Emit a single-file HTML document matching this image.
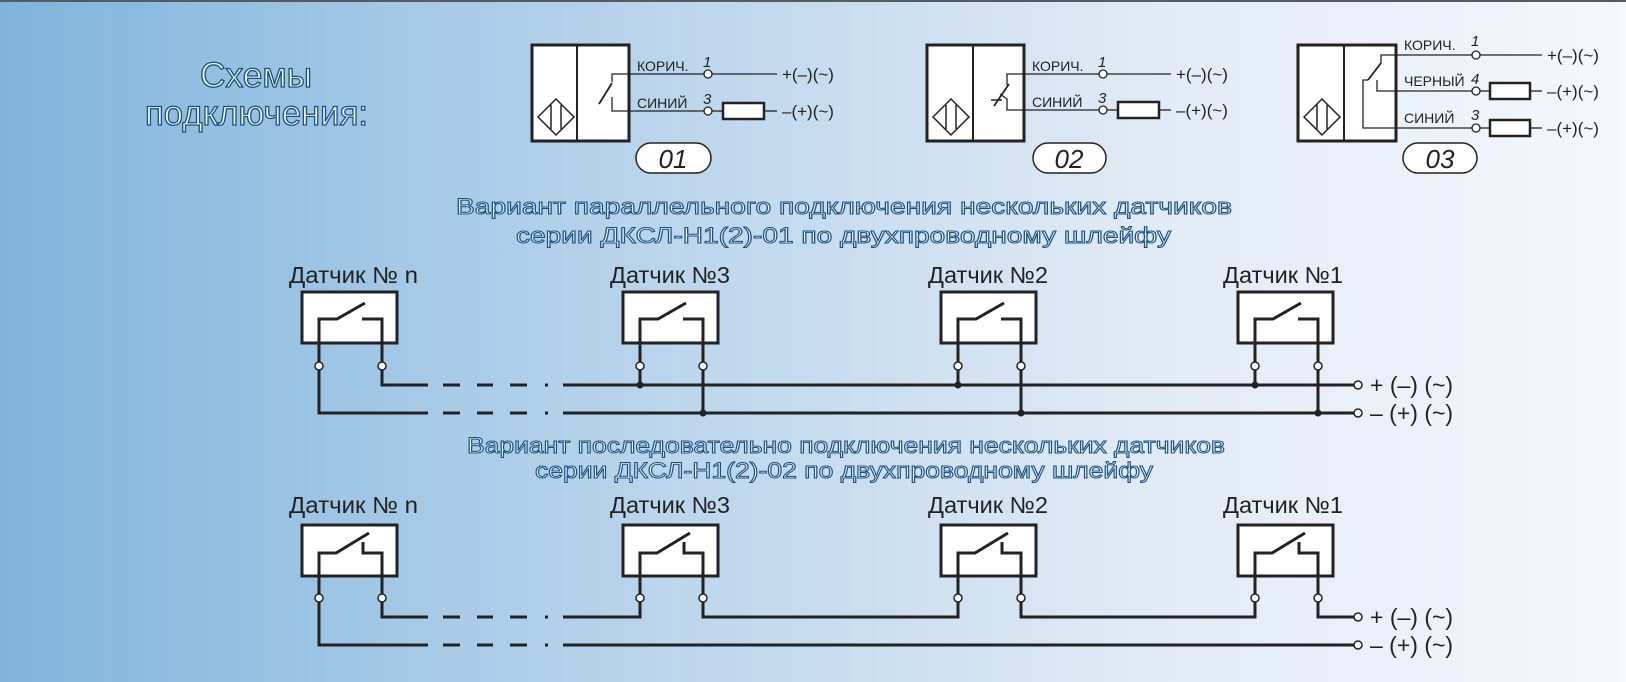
<!DOCTYPE html>
<html><head><meta charset="utf-8"><style>
html,body{margin:0;padding:0;width:1626px;height:682px;overflow:hidden}
svg{display:block}
text{font-family:"Liberation Sans","DejaVu Sans",sans-serif}
</style></head><body>
<svg width="1626" height="682" viewBox="0 0 1626 682" xmlns="http://www.w3.org/2000/svg">
<defs>
<linearGradient id="bg" x1="0" x2="1" y1="0" y2="0">
<stop offset="0" stop-color="#80b4dc"/>
<stop offset="0.35" stop-color="#b3d1ea"/>
<stop offset="0.7" stop-color="#e0eaf5"/>
<stop offset="1" stop-color="#f5f8fc"/>
</linearGradient>
</defs>
<rect width="1626" height="682" fill="url(#bg)"/>
<rect width="1626" height="2" fill="#555b63"/>

<!-- titles -->
<g fill="#f2f8fd" stroke="#174f80" stroke-width="1.3" font-size="35">
<text x="200" y="87" textLength="112" lengthAdjust="spacingAndGlyphs">Схемы</text>
<text x="145" y="125" textLength="223" lengthAdjust="spacingAndGlyphs">подключения:</text>
</g>
<g fill="#eef5fc" stroke="#174f80" stroke-width="1" font-size="22">
<text x="456" y="214" textLength="776" lengthAdjust="spacingAndGlyphs">Вариант параллельного подключения нескольких датчиков</text>
<text x="516" y="243" textLength="655" lengthAdjust="spacingAndGlyphs">серии ДКСЛ-Н1(2)-01 по двухпроводному шлейфу</text>
<text x="467" y="453" textLength="758" lengthAdjust="spacingAndGlyphs">Вариант последовательно подключения нескольких датчиков</text>
<text x="535" y="478" textLength="618" lengthAdjust="spacingAndGlyphs">серии ДКСЛ-Н1(2)-02 по двухпроводному шлейфу</text>
</g>

<!-- small diagrams -->
<g stroke="#222" fill="none">
<!-- 01 -->
<rect x="532" y="45" width="97" height="96" fill="#fff" stroke-width="3"/>
<line x1="577" y1="45" x2="577" y2="141" stroke-width="2"/>
<polygon points="538,117 556,99 574,117 556,135" stroke-width="1.5"/>
<line x1="551" y1="105" x2="551" y2="129" stroke-width="1.5"/><line x1="561" y1="105" x2="561" y2="129" stroke-width="1.5"/>
<polyline points="704,74 612,74 612,82" stroke-width="1.3"/>
<line x1="612" y1="83" x2="599" y2="104" stroke-width="1.8"/>
<polyline points="612,97 612,111 704,111" stroke-width="1.3"/>
<line x1="712" y1="74" x2="777" y2="74" stroke-width="1.3"/>
<line x1="712" y1="111" x2="723" y2="111" stroke-width="1.3"/>
<rect x="723" y="103" width="41" height="16" stroke-width="2.5" fill="#fff"/>
<line x1="764" y1="111" x2="777" y2="111" stroke-width="1.3"/>
<circle cx="708" cy="74" r="4" fill="#fff" stroke-width="1.3"/><circle cx="708" cy="111" r="4" fill="#fff" stroke-width="1.3"/>
<rect x="636" y="143" width="75" height="30" rx="15" fill="#fff" stroke-width="1.5"/>
<!-- 02 -->
<rect x="927" y="45" width="97" height="96" fill="#fff" stroke-width="3"/>
<line x1="973" y1="45" x2="973" y2="141" stroke-width="2"/>
<polygon points="933,117 951,99 969,117 951,135" stroke-width="1.5"/>
<line x1="946" y1="105" x2="946" y2="129" stroke-width="1.5"/><line x1="956" y1="105" x2="956" y2="129" stroke-width="1.5"/>
<polyline points="1099,74 1007,74 1007,85" stroke-width="1.3"/>
<line x1="1009" y1="84" x2="994" y2="106" stroke-width="1.8"/>
<polyline points="1099,110 1007,110 1007,99 1000,94" stroke-width="1.3"/>
<line x1="991" y1="100" x2="1002" y2="100" stroke-width="1.5"/>
<line x1="1107" y1="74" x2="1171" y2="74" stroke-width="1.3"/>
<line x1="1107" y1="110" x2="1118" y2="110" stroke-width="1.3"/>
<rect x="1118" y="102" width="41" height="16" stroke-width="2.5" fill="#fff"/>
<line x1="1159" y1="110" x2="1171" y2="110" stroke-width="1.3"/>
<circle cx="1103" cy="74" r="4" fill="#fff" stroke-width="1.3"/><circle cx="1103" cy="110" r="4" fill="#fff" stroke-width="1.3"/>
<rect x="1033" y="143" width="73" height="30" rx="15" fill="#fff" stroke-width="1.5"/>
<!-- 03 -->
<rect x="1298" y="45" width="98" height="96" fill="#fff" stroke-width="3"/>
<line x1="1344" y1="45" x2="1344" y2="141" stroke-width="2"/>
<polygon points="1304,117 1322,99 1340,117 1322,135" stroke-width="1.5"/>
<line x1="1317" y1="105" x2="1317" y2="129" stroke-width="1.5"/><line x1="1327" y1="105" x2="1327" y2="129" stroke-width="1.5"/>
<polyline points="1472,55 1381,55 1381,63" stroke-width="1.3"/>
<line x1="1381" y1="63" x2="1368" y2="80" stroke-width="1.8"/>
<polyline points="1368,80 1363,80 1363,128 1472,128" stroke-width="1.3"/>
<polyline points="1377,80 1377,91 1472,91" stroke-width="1.3"/>
<line x1="1480" y1="55" x2="1542" y2="55" stroke-width="1.3"/>
<line x1="1480" y1="91" x2="1490" y2="91" stroke-width="1.3"/>
<rect x="1490" y="83" width="40" height="16" stroke-width="2.5" fill="#fff"/>
<line x1="1530" y1="91" x2="1542" y2="91" stroke-width="1.3"/>
<line x1="1480" y1="128" x2="1490" y2="128" stroke-width="1.3"/>
<rect x="1490" y="120" width="40" height="16" stroke-width="2.5" fill="#fff"/>
<line x1="1530" y1="128" x2="1542" y2="128" stroke-width="1.3"/>
<circle cx="1476" cy="55" r="4" fill="#fff" stroke-width="1.3"/><circle cx="1476" cy="91" r="4" fill="#fff" stroke-width="1.3"/><circle cx="1476" cy="128" r="4" fill="#fff" stroke-width="1.3"/>
<rect x="1403" y="143" width="74" height="30" rx="15" fill="#fff" stroke-width="1.5"/>
</g>
<g fill="#222" font-size="14">
<text x="637" y="71">КОРИЧ.</text><text x="637" y="108">СИНИЙ</text>
<text x="1032" y="71">КОРИЧ.</text><text x="1032" y="107">СИНИЙ</text>
<text x="1404" y="50">КОРИЧ.</text><text x="1404" y="86">ЧЕРНЫЙ</text><text x="1404" y="123">СИНИЙ</text>
<g font-style="italic" font-size="15">
<text x="703" y="67">1</text><text x="703" y="104">3</text>
<text x="1098" y="67">1</text><text x="1098" y="103">3</text>
<text x="1471" y="46">1</text><text x="1471" y="84">4</text><text x="1471" y="120">3</text>
</g>
<g font-size="17">
<text x="782" y="80">+(–)(~)</text><text x="782" y="117">–(+)(~)</text>
<text x="1176" y="80">+(–)(~)</text><text x="1176" y="116">–(+)(~)</text>
<text x="1547" y="61">+(–)(~)</text><text x="1547" y="97">–(+)(~)</text><text x="1547" y="134">–(+)(~)</text>
</g>
<g font-style="italic" font-size="26" text-anchor="middle">
<text x="673" y="168">01</text><text x="1069" y="168">02</text><text x="1440" y="168">03</text>
</g>
</g>

<!-- sensor labels -->
<g fill="#222" font-size="23">
<text x="289" y="283" textLength="129" lengthAdjust="spacingAndGlyphs">Датчик № n</text><text x="610" y="283" textLength="120" lengthAdjust="spacingAndGlyphs">Датчик №3</text><text x="928" y="283" textLength="120" lengthAdjust="spacingAndGlyphs">Датчик №2</text><text x="1223" y="283" textLength="120" lengthAdjust="spacingAndGlyphs">Датчик №1</text>
<text x="289" y="513" textLength="129" lengthAdjust="spacingAndGlyphs">Датчик № n</text><text x="610" y="513" textLength="120" lengthAdjust="spacingAndGlyphs">Датчик №3</text><text x="928" y="513" textLength="120" lengthAdjust="spacingAndGlyphs">Датчик №2</text><text x="1223" y="513" textLength="120" lengthAdjust="spacingAndGlyphs">Датчик №1</text>
<text x="1370" y="393">+ (–) (~)</text><text x="1370" y="421">– (+) (~)</text>
<text x="1370" y="625">+ (–) (~)</text><text x="1370" y="653">– (+) (~)</text>
</g>

<!-- parallel diagram -->
<g stroke="#222" stroke-width="3" fill="none">
<rect x="302" y="292" width="95" height="51" fill="#fff"/>
<rect x="623" y="292" width="95" height="51" fill="#fff"/>
<rect x="941" y="292" width="95" height="51" fill="#fff"/>
<rect x="1238" y="292" width="95" height="51" fill="#fff"/>
<path d="M319,362 V319 H337 L365,303 M362,319 H382 V362"/>
<path d="M640,362 V319 H658 L686,303 M683,319 H703 V362"/>
<path d="M958,362 V319 H976 L1004,303 M1001,319 H1021 V362"/>
<path d="M1255,362 V319 H1273 L1301,303 M1298,319 H1318 V362"/>
<path d="M382,370 V385 H428 M563,385 H1354"/>
<path d="M319,370 V413 H428 M563,413 H1354"/>
<path d="M443,385 H460 M477,385 H493 M510,385 H527 M545,385 H548"/>
<path d="M443,413 H460 M477,413 H493 M510,413 H527 M545,413 H548"/>
<path d="M640,370 V385 M703,370 V413 M958,370 V385 M1021,370 V413 M1255,370 V385 M1318,370 V413"/>
</g>
<g fill="#222">
<circle cx="640" cy="385" r="3.5"/><circle cx="703" cy="413" r="3.5"/><circle cx="958" cy="385" r="3.5"/><circle cx="1021" cy="413" r="3.5"/><circle cx="1255" cy="385" r="3.5"/><circle cx="1318" cy="413" r="3.5"/>
</g>
<g fill="#fff" stroke="#222" stroke-width="1.5">
<circle cx="319" cy="366" r="4"/><circle cx="382" cy="366" r="4"/><circle cx="640" cy="366" r="4"/><circle cx="703" cy="366" r="4"/><circle cx="958" cy="366" r="4"/><circle cx="1021" cy="366" r="4"/><circle cx="1255" cy="366" r="4"/><circle cx="1318" cy="366" r="4"/>
<circle cx="1358" cy="385" r="4"/><circle cx="1358" cy="413" r="4"/>
</g>

<!-- series diagram -->
<g stroke="#222" stroke-width="3" fill="none">
<rect x="302" y="525" width="95" height="51" fill="#fff"/>
<rect x="623" y="525" width="95" height="51" fill="#fff"/>
<rect x="941" y="525" width="95" height="51" fill="#fff"/>
<rect x="1238" y="525" width="95" height="51" fill="#fff"/>
<path d="M319,594 V553 H336 L369,533 M382,594 V553 H363 V542"/>
<path d="M640,594 V553 H657 L690,533 M703,594 V553 H684 V542"/>
<path d="M958,594 V553 H975 L1008,533 M1021,594 V553 H1002 V542"/>
<path d="M1255,594 V553 H1272 L1305,533 M1318,594 V553 H1299 V542"/>
<path d="M382,602 V617 H428 M563,617 H640 V602 M703,602 V617 H958 V602 M1021,602 V617 H1255 V602 M1318,602 V617 H1354"/>
<path d="M319,602 V645 H428 M563,645 H1354"/>
<path d="M443,617 H460 M477,617 H493 M510,617 H527 M545,617 H548"/>
<path d="M443,645 H460 M477,645 H493 M510,645 H527 M545,645 H548"/>
</g>
<g fill="#fff" stroke="#222" stroke-width="1.5">
<circle cx="319" cy="598" r="4"/><circle cx="382" cy="598" r="4"/><circle cx="640" cy="598" r="4"/><circle cx="703" cy="598" r="4"/><circle cx="958" cy="598" r="4"/><circle cx="1021" cy="598" r="4"/><circle cx="1255" cy="598" r="4"/><circle cx="1318" cy="598" r="4"/>
<circle cx="1358" cy="617" r="4"/><circle cx="1358" cy="645" r="4"/>
</g>
</svg>
</body></html>
